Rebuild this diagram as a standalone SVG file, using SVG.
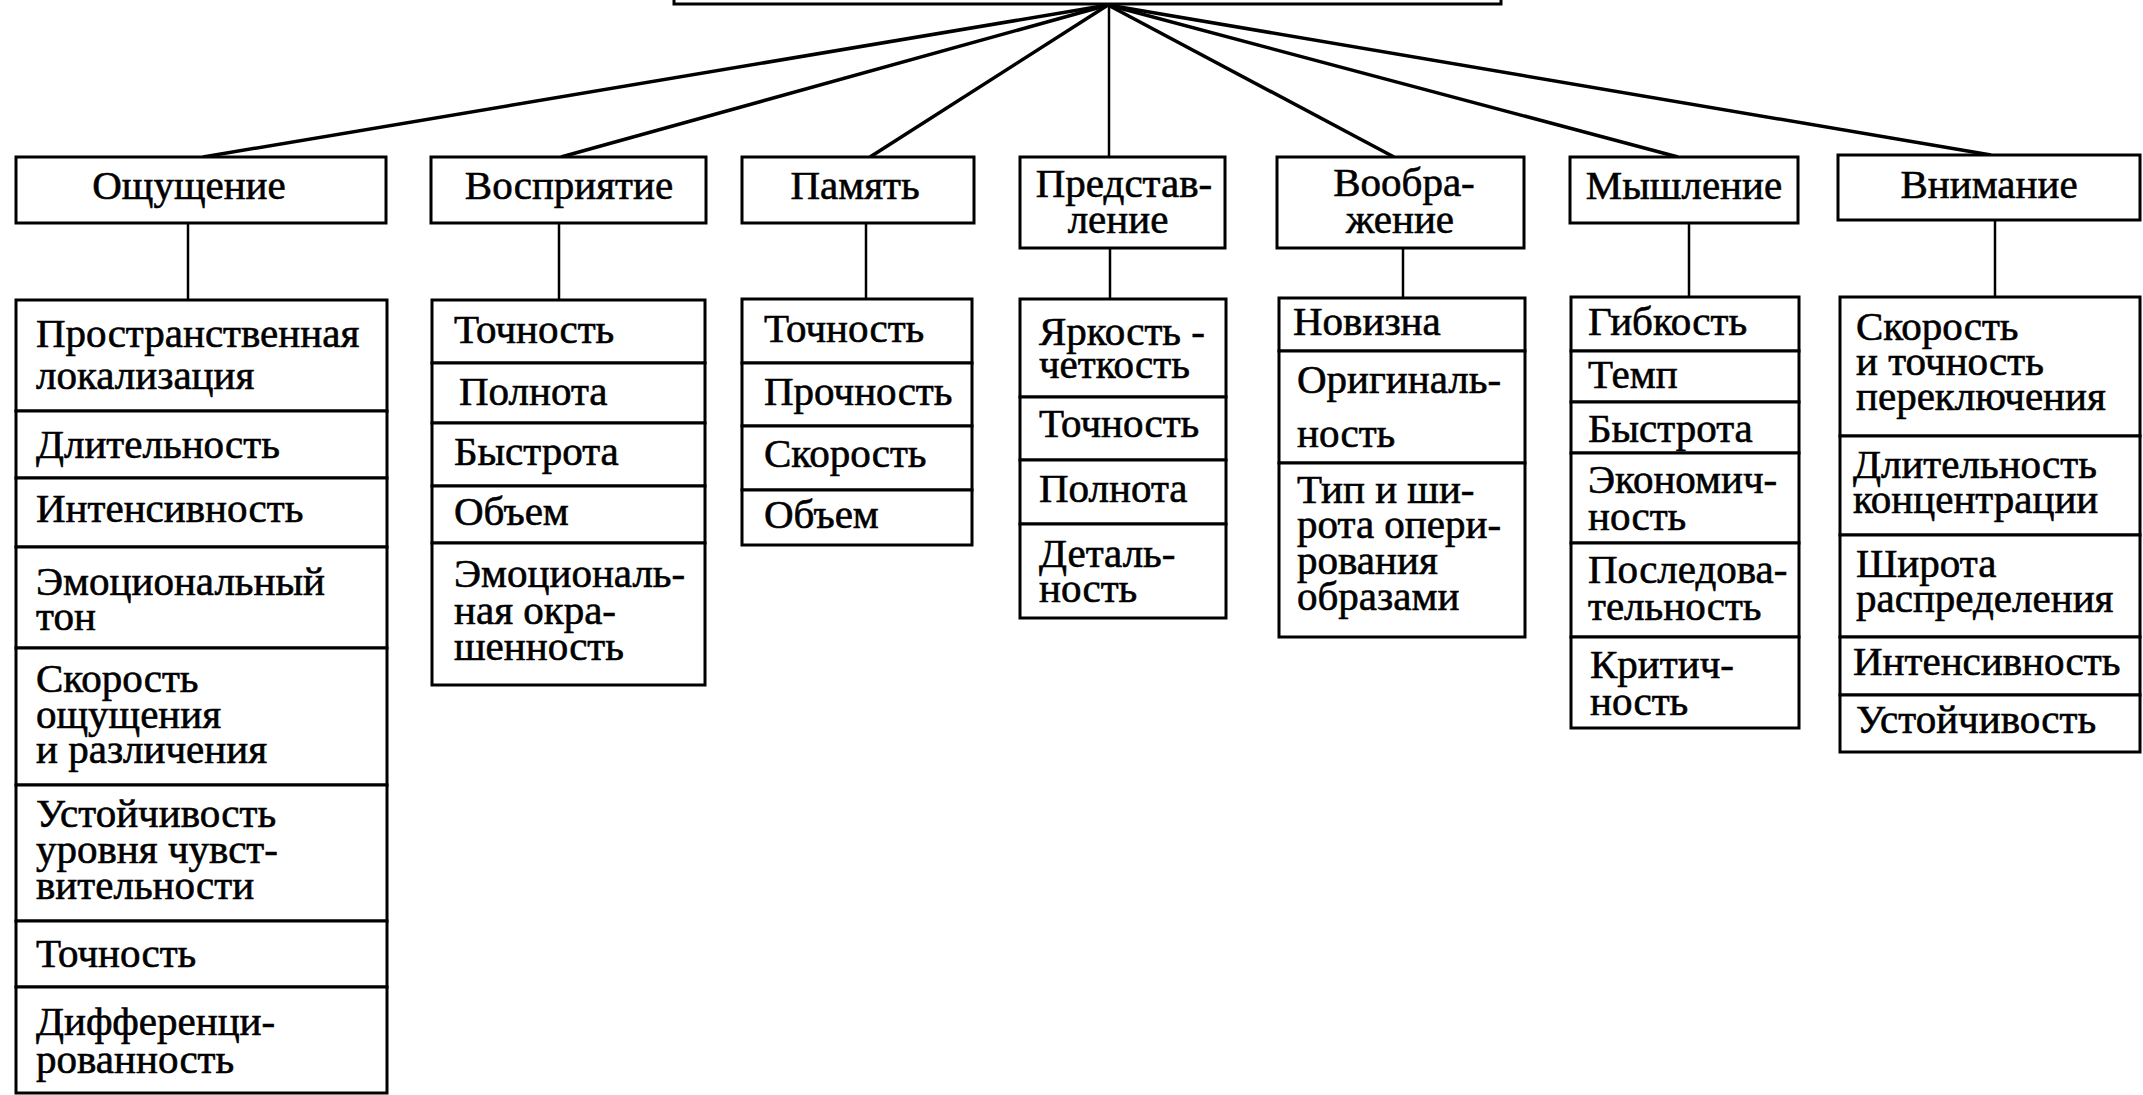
<svg xmlns="http://www.w3.org/2000/svg" width="2143" height="1095" viewBox="0 0 2143 1095">
<style>
.b{fill:#fff;stroke:#000;stroke-width:3}
.t{font-family:"Liberation Serif","Times New Roman",serif;font-size:41px;fill:#000;stroke:#000;stroke-width:0.6}
.h{text-anchor:middle}
.c{stroke:#000;fill:none}
.f{stroke-width:3.5}
.v{stroke-width:2.5}
</style>
<rect width="2143" height="1095" fill="#fff"/>
<g id="connectors">
<line class="c f" x1="1108" y1="5" x2="203" y2="157"/>
<line class="c f" x1="1108" y1="5" x2="561" y2="157"/>
<line class="c f" x1="1108" y1="5" x2="870" y2="157"/>
<line class="c v" x1="1109" y1="5" x2="1109" y2="157"/>
<line class="c f" x1="1108" y1="5" x2="1394" y2="157"/>
<line class="c f" x1="1108" y1="5" x2="1678" y2="157"/>
<line class="c f" x1="1108" y1="5" x2="1991" y2="155"/>
<line class="c v" x1="188" y1="223" x2="188" y2="300"/>
<line class="c v" x1="559" y1="223" x2="559" y2="300"/>
<line class="c v" x1="866" y1="223" x2="866" y2="299"/>
<line class="c v" x1="1110" y1="248" x2="1110" y2="299"/>
<line class="c v" x1="1403" y1="248" x2="1403" y2="298"/>
<line class="c v" x1="1689" y1="223" x2="1689" y2="297"/>
<line class="c v" x1="1995" y1="220" x2="1995" y2="297"/>
</g>
<g id="root"><rect class="b" x="674" y="-60" width="827" height="64"/></g>
<g id="n-oshch">
<rect class="b" x="16" y="157" width="370" height="66"/>
<text class="t h" x="189" y="199">Ощущение</text>
</g>
<g id="n-vospr">
<rect class="b" x="431" y="157" width="275" height="66"/>
<text class="t h" x="569" y="199">Восприятие</text>
</g>
<g id="n-pamyat">
<rect class="b" x="742" y="157" width="232" height="66"/>
<text class="t h" x="855" y="199">Память</text>
</g>
<g id="n-predst">
<rect class="b" x="1020" y="157" width="205" height="91"/>
<text class="t h" x="1124" y="197">Представ-</text>
<text class="t h" x="1118" y="233">ление</text>
</g>
<g id="n-voobr">
<rect class="b" x="1277" y="157" width="247" height="91"/>
<text class="t h" x="1404" y="196">Вообра-</text>
<text class="t h" x="1400" y="233">жение</text>
</g>
<g id="n-mysh">
<rect class="b" x="1570" y="157" width="228" height="66"/>
<text class="t h" x="1684" y="199">Мышление</text>
</g>
<g id="n-vnim">
<rect class="b" x="1838" y="155" width="302" height="65"/>
<text class="t h" x="1989" y="198">Внимание</text>
</g>
<g id="s-oshch">
<rect class="b" x="16" y="300" width="371" height="111"/>
<rect class="b" x="16" y="411" width="371" height="67"/>
<rect class="b" x="16" y="478" width="371" height="69"/>
<rect class="b" x="16" y="547" width="371" height="101"/>
<rect class="b" x="16" y="648" width="371" height="137"/>
<rect class="b" x="16" y="785" width="371" height="136"/>
<rect class="b" x="16" y="921" width="371" height="66"/>
<rect class="b" x="16" y="987" width="371" height="106"/>
<text class="t" x="36" y="347">Пространственная</text>
<text class="t" x="36" y="389">локализация</text>
<text class="t" x="36" y="458">Длительность</text>
<text class="t" x="36" y="522">Интенсивность</text>
<text class="t" x="36" y="595">Эмоциональный</text>
<text class="t" x="36" y="630">тон</text>
<text class="t" x="36" y="692">Скорость</text>
<text class="t" x="36" y="728">ощущения</text>
<text class="t" x="36" y="763">и различения</text>
<text class="t" x="36" y="827">Устойчивость</text>
<text class="t" x="36" y="863">уровня чувст-</text>
<text class="t" x="36" y="899">вительности</text>
<text class="t" x="36" y="967">Точность</text>
<text class="t" x="36" y="1035">Дифференци-</text>
<text class="t" x="36" y="1073">рованность</text>
</g>
<g id="s-vospr">
<rect class="b" x="432" y="300" width="273" height="63"/>
<rect class="b" x="432" y="363" width="273" height="60"/>
<rect class="b" x="432" y="423" width="273" height="63"/>
<rect class="b" x="432" y="486" width="273" height="57"/>
<rect class="b" x="432" y="543" width="273" height="142"/>
<text class="t" x="454" y="343">Точность</text>
<text class="t" x="459" y="405">Полнота</text>
<text class="t" x="454" y="465">Быстрота</text>
<text class="t" x="454" y="525">Объем</text>
<text class="t" x="454" y="587">Эмоциональ-</text>
<text class="t" x="454" y="624">ная окра-</text>
<text class="t" x="454" y="660">шенность</text>
</g>
<g id="s-pamyat">
<rect class="b" x="742" y="299" width="230" height="64"/>
<rect class="b" x="742" y="363" width="230" height="63"/>
<rect class="b" x="742" y="426" width="230" height="64"/>
<rect class="b" x="742" y="490" width="230" height="55"/>
<text class="t" x="764" y="342">Точность</text>
<text class="t" x="764" y="405">Прочность</text>
<text class="t" x="764" y="467">Скорость</text>
<text class="t" x="764" y="528">Объем</text>
</g>
<g id="s-predst">
<rect class="b" x="1020" y="299" width="206" height="98"/>
<rect class="b" x="1020" y="397" width="206" height="63"/>
<rect class="b" x="1020" y="460" width="206" height="64"/>
<rect class="b" x="1020" y="524" width="206" height="94"/>
<text class="t" x="1039" y="345">Яркость -</text>
<text class="t" x="1039" y="378">четкость</text>
<text class="t" x="1039" y="437">Точность</text>
<text class="t" x="1039" y="502">Полнота</text>
<text class="t" x="1039" y="567">Деталь-</text>
<text class="t" x="1039" y="602">ность</text>
</g>
<g id="s-voobr">
<rect class="b" x="1279" y="298" width="246" height="53"/>
<rect class="b" x="1279" y="351" width="246" height="112"/>
<rect class="b" x="1279" y="463" width="246" height="174"/>
<text class="t" x="1293" y="335">Новизна</text>
<text class="t" x="1297" y="393">Оригиналь-</text>
<text class="t" x="1297" y="447">ность</text>
<text class="t" x="1297" y="503">Тип и ши-</text>
<text class="t" x="1297" y="538">рота опери-</text>
<text class="t" x="1297" y="574">рования</text>
<text class="t" x="1297" y="610">образами</text>
</g>
<g id="s-mysh">
<rect class="b" x="1571" y="297" width="228" height="54"/>
<rect class="b" x="1571" y="351" width="228" height="51"/>
<rect class="b" x="1571" y="402" width="228" height="51"/>
<rect class="b" x="1571" y="453" width="228" height="90"/>
<rect class="b" x="1571" y="543" width="228" height="94"/>
<rect class="b" x="1571" y="637" width="228" height="91"/>
<text class="t" x="1588" y="335">Гибкость</text>
<text class="t" x="1588" y="388">Темп</text>
<text class="t" x="1588" y="442">Быстрота</text>
<text class="t" x="1588" y="493">Экономич-</text>
<text class="t" x="1588" y="530">ность</text>
<text class="t" x="1588" y="583">Последова-</text>
<text class="t" x="1588" y="620">тельность</text>
<text class="t" x="1590" y="678">Критич-</text>
<text class="t" x="1590" y="715">ность</text>
</g>
<g id="s-vnim">
<rect class="b" x="1840" y="297" width="300" height="139"/>
<rect class="b" x="1840" y="436" width="300" height="99"/>
<rect class="b" x="1840" y="535" width="300" height="102"/>
<rect class="b" x="1840" y="637" width="300" height="58"/>
<rect class="b" x="1840" y="695" width="300" height="57"/>
<text class="t" x="1856" y="340">Скорость</text>
<text class="t" x="1856" y="375">и точность</text>
<text class="t" x="1856" y="410">переключения</text>
<text class="t" x="1853" y="478">Длительность</text>
<text class="t" x="1853" y="513">концентрации</text>
<text class="t" x="1856" y="577">Широта</text>
<text class="t" x="1856" y="612">распределения</text>
<text class="t" x="1853" y="675">Интенсивность</text>
<text class="t" x="1856" y="733">Устойчивость</text>
</g>
</svg>
